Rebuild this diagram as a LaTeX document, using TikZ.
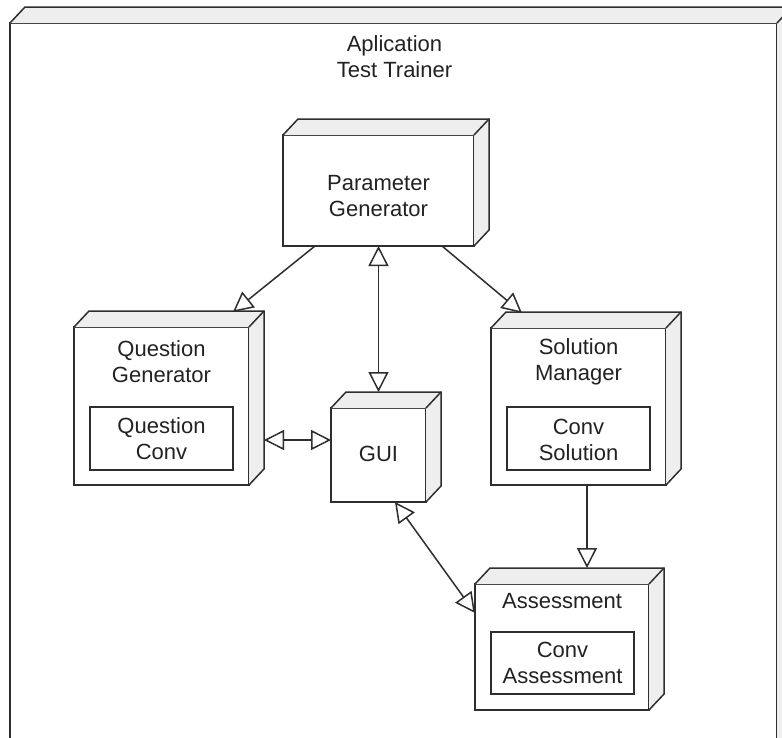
\documentclass[tikz,border=0pt]{standalone}
\usepackage{fontspec}
\setmainfont{Liberation Sans}
\usetikzlibrary{arrows.meta,calc}
\definecolor{ln}{HTML}{2E2E2E}
\definecolor{face}{HTML}{EEEEEE}
\definecolor{txt}{HTML}{222222}
\newcommand{\boxthreed}[1]{%
  \fill[face] (#1.north west) -- ++(15,-16) -- ($(#1.north east)+(15,-16)$) -- ($(#1.south east)+(15,-16)$) -- (#1.south east) -- (#1.north east) -- cycle;
  \draw[edge] (#1.north west) -- ++(15,-16) -- ($(#1.north east)+(15,-16)$) -- ($(#1.south east)+(15,-16)$) -- (#1.south east);
  \draw[edge] (#1.north east) -- ++(15,-16);
}
\begin{document}
\begin{tikzpicture}[x=1pt,y=-1pt,
  >={Triangle[open,length=20pt,width=20pt]},
  edge/.style={draw=ln,line width=1.5pt,line join=miter},
  front/.style={draw=ln,line width=1.5pt,fill=white,inner sep=0pt,outer sep=0pt},
  inbox/.style={draw=ln,line width=1.4pt,fill=white,inner sep=0pt,outer sep=0pt},
  lbl/.style={anchor=base,align=center,inner sep=0pt,text=txt,font=\fontsize{22}{26}\selectfont},
  con/.style={draw=ln,line width=1.5pt},
  ar/.style={con,->},
  biar/.style={con,<->}]
\useasboundingbox (0,0) rectangle (782,737);
\clip (0,0) rectangle (782,737);
\fill[white] (0,0) rectangle (782,737);

% outer frame
\node[front,minimum width=767pt,minimum height=737pt] (outer) at (393.5,391.5) {};
\boxthreed{outer}
\node[lbl] (title) at (394.5,77) {Aplication\\Test Trainer};

% Parameter Generator
\node[front,minimum width=191pt,minimum height=111pt] (pg) at (378.5,190.5) {};
\boxthreed{pg}
\node[lbl] (pgt) at (378.5,216) {Parameter\\Generator};

% Question Generator
\node[front,minimum width=175pt,minimum height=158pt] (qg) at (161.5,406) {};
\boxthreed{qg}
\node[lbl] (qgt) at (161.5,382) {Question\\Generator};
\node[inbox,minimum width=143pt,minimum height=63pt] (qgi) at (161.5,438.5) {};
\node[lbl] (qgit) at (161.5,459) {Question\\Conv};

% GUI
\node[front,minimum width=95pt,minimum height=94pt] (gui) at (378.5,455) {};
\boxthreed{gui}
\node[lbl] (guit) at (378.5,461) {GUI};

% Solution Manager
\node[front,minimum width=175pt,minimum height=157pt] (sm) at (578.5,406.5) {};
\boxthreed{sm}
\node[lbl] (smt) at (578.5,380) {Solution\\Manager};
\node[inbox,minimum width=143pt,minimum height=63pt] (smi) at (578.5,438.5) {};
\node[lbl] (smit) at (578.5,460) {Conv\\Solution};

% Assessment
\node[front,minimum width=174pt,minimum height=126pt] (as) at (562,647) {};
\boxthreed{as}
\node[lbl] (ast) at (562,608) {Assessment};
\node[inbox,minimum width=143pt,minimum height=62pt] (asi) at (562.5,663) {};
\node[lbl] (asit) at (562.5,683) {Conv\\Assessment};

% connectors
\draw[ar] ($(pg.south west)+(32,0)$) -- ($(qg.north west)+(159,-15)$);
\draw[ar] ($(pg.south west)+(159,0)$) -- ($(sm.north west)+(31,-15)$);
\draw[biar] (pg.south) -- ($(gui.north)+(0,-16)$);
\draw[biar] ($(qg.east)+(15,34)$) -- ($(gui.west)+(0,-15)$);
\draw[ar] ($(sm.south)+(8.5,0)$) -- ($(as.north)+(25,-16)$);
\draw[biar] ($(gui.south)+(16.5,0)$) -- ($(as.west)+(0,-34)$);
\end{tikzpicture}
\end{document}
